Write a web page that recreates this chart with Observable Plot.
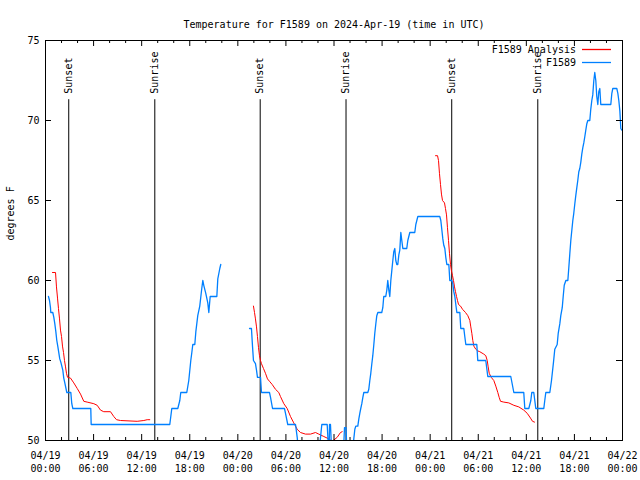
<!DOCTYPE html>
<html><head><meta charset="utf-8">
<script src="https://cdn.jsdelivr.net/npm/d3@7"></script>
<script src="https://cdn.jsdelivr.net/npm/@observablehq/plot@0.6"></script>
<style>body{margin:0;background:#fff;} svg{display:block}</style>
</head><body><div id="chart"></div>
<script>
const title = "Temperature for F1589 on 2024-Apr-19 (time in UTC)";
const yLabel = "degrees F";
const startUTC = Date.UTC(2024, 3, 19, 0, 0);
const xTickHours = [0, 6, 12, 18, 24, 30, 36, 42, 48, 54, 60, 66, 72];
const xMinorHours = [2, 4, 8, 10, 14, 16, 20, 22, 26, 28, 32, 34, 38, 40, 44, 46, 50, 52, 56, 58, 62, 64, 68, 70];
const yTicks = [50, 55, 60, 65, 70, 75];
const eventNames = ["Sunset", "Sunrise", "Sunset", "Sunrise", "Sunset", "Sunrise"];
const eventHours = [2.9, 13.64, 26.79, 37.5, 50.69, 61.43];
const eventLineTop = 71.3;
const seriesNames = ["F1589 Analysis", "F1589"];
const seriesColors = ["#ff0000", "#0080ff"];

// observed F1589 temperature: [hours since 04/19 00:00 UTC, degrees F]; null = gap
const obsPoints = [
[0.37,59],[0.50,58.75],[0.62,58.3],[0.66,58],[0.91,58],[1.04,57.7],[1.16,57.3],[1.29,56.8],[1.41,56.25],[1.53,55.9],[1.78,55.1],[1.91,54.9],[2.16,54.4],[2.28,53.9],[2.41,53.6],[2.66,53],[3.16,53],[3.28,52.3],[3.41,52],[5.65,52],[5.70,51],[15.51,51],[15.76,52],[16.51,52],[16.76,52.5],[16.88,53],[17.63,53],[17.88,53.75],[18.13,55],[18.26,55.5],[18.38,56],[18.63,56],[18.76,56.8],[19.00,57.8],[19.25,58.4],[19.50,59.5],[19.63,60],[19.75,59.7],[20.00,59.2],[20.25,58.6],[20.38,58],[20.55,59],[21.38,59],[21.50,60.1],[21.75,60.75],[21.87,61],
[23.5,null],
[25.46,57],[25.70,57],[25.83,55.9],[25.95,55],[26.20,54.8],[26.33,54.4],[26.45,53.95],[26.83,53.95],[26.95,53],[27.95,53],[28.08,52.7],[28.33,52],[29.82,52],[29.95,51.7],[30.23,51],[31.20,51],[31.41,50.2],[31.60,49],[34.10,49],[34.32,50.2],[34.48,51],[35.15,51],[35.31,49.5],[35.40,49.5],[35.44,51],[35.56,51],[35.69,49.5],[37.20,49.5],[37.31,50.8],[37.50,50.8],[37.60,49.5],[38.35,49.5],[38.47,50.1],[38.60,50.7],[38.72,50.9],[38.97,50.9],[39.10,51.35],[39.22,51.7],[39.34,52],[39.47,52.3],[39.60,52.7],[39.72,53],[40.22,53],[40.34,53.2],[40.47,53.75],[40.59,54.2],[40.72,54.8],[40.84,55.3],[40.97,56],[41.09,56.7],[41.22,57.3],[41.34,57.8],[41.47,58],[41.96,58],[42.09,58.3],[42.21,59],[42.46,59],[42.59,59.4],[42.71,60],[42.84,59.4],[42.96,59],[43.09,60],[43.21,60.6],[43.34,61.25],[43.46,61.8],[43.59,62],[43.71,61.25],[43.84,61],[43.96,61],[44.09,61.6],[44.21,61.9],[44.34,63],[44.46,62.5],[44.59,62],[45.08,62],[45.21,62.5],[45.46,63],[46.08,63],[46.21,63.5],[46.46,64],[49.20,64],[49.33,63.75],[49.45,63.2],[49.58,62.6],[49.70,62.2],[49.83,62],[49.95,61.45],[50.08,61],[50.33,61],[50.45,60],[50.70,60],[50.83,59.8],[50.95,59.3],[51.08,59],[51.20,58.5],[51.33,58],[51.70,58],[51.82,57],[52.20,57],[52.32,56.5],[52.45,56],[53.82,56],[53.94,55],[54.94,55],[55.19,54],[58.06,54],[58.44,53],[59.68,53],[59.81,52],[60.31,52],[60.56,52.5],[60.68,53],[60.93,53],[61.18,52],[62.18,52],[62.30,52.5],[62.43,53],[62.93,53],[63.14,53.75],[63.39,54.9],[63.55,55.7],[63.85,56],[63.98,56.7],[64.18,57.3],[64.30,57.8],[64.48,58.3],[64.60,59],[64.73,59.7],[64.93,60],[65.18,60],[65.30,60.8],[65.43,61.7],[65.55,62.5],[65.80,63.75],[65.92,64.2],[66.05,64.8],[66.17,65.3],[66.30,65.8],[66.42,66.25],[66.55,66.8],[66.67,67],[66.80,67.4],[66.92,67.9],[67.05,68.3],[67.17,68.6],[67.30,69],[67.42,69.4],[67.55,69.8],[67.67,70],[67.92,70],[68.04,70.7],[68.17,71.25],[68.29,71.6],[68.42,72.5],[68.54,73],[68.67,72.5],[68.79,71.5],[68.92,71],[69.04,71.8],[69.17,72],[69.29,71],[70.54,71],[70.67,71.7],[70.79,72],[71.29,72],[71.42,71.7],[71.54,71.25],[71.67,70.6],[71.79,69.5],[71.92,69.4]
];

// F1589 Analysis: [hours since 04/19 00:00 UTC, degrees F]; null = gap
const anaPoints = [
[0.87,60.5],[1.25,60.5],[1.37,59.6],[1.50,58.9],[1.62,58.25],[1.75,57.6],[1.87,56.9],[2.00,56.5],[2.12,55.9],[2.25,55.5],[2.37,55],[2.50,54.6],[2.62,54.2],[2.75,53.95],[3.12,53.9],[3.53,53.6],[3.96,53.25],[4.37,52.9],[4.78,52.45],[5.20,52.4],[6.03,52.3],[6.45,52.2],[6.86,51.9],[7.27,51.8],[8.11,51.8],[8.52,51.5],[8.86,51.3],[9.36,51.25],[11.44,51.2],[12.27,51.25],[12.69,51.3],[13.01,51.3],
[20,null],
[25.95,58.4],[26.08,58],[26.20,57.6],[26.33,57.1],[26.45,56.5],[26.58,55.8],[26.70,55.3],[26.83,55],[26.95,54.8],[27.20,54.5],[27.45,54.2],[27.70,53.85],[27.95,53.7],[28.29,53.5],[28.70,53.2],[29.11,53],[29.32,52.75],[29.74,52.3],[30.16,52],[30.57,51.5],[30.98,51.1],[31.41,50.7],[31.82,50.5],[32.44,50.4],[33.07,50.4],[33.69,50.5],[34.10,50.4],[34.73,50.25],[35.35,50.1],[35.78,49.95],[36.40,50.2],[36.81,50.5],[37.02,50.55],
[43,null],
[48.67,67.8],[48.92,67.8],[49.04,67.5],[49.16,66.7],[49.29,66],[49.41,65.4],[49.54,65],[49.79,64.85],[49.91,64.5],[50.04,64.1],[50.16,63.3],[50.29,62.5],[50.41,61.7],[50.54,61],[50.66,60.6],[50.79,60.3],[50.91,60],[51.04,59.6],[51.16,59.3],[51.29,59],[51.41,58.75],[51.54,58.5],[51.79,58.4],[52.04,58.2],[52.41,58],[52.70,57.8],[52.95,57.5],[53.07,57.1],[53.20,56.7],[53.32,56.25],[53.45,55.9],[53.70,55.7],[53.94,55.6],[54.19,55.55],[54.69,55.4],[54.94,55.3],[55.12,55],[55.24,54.6],[55.37,54.2],[55.62,53.95],[55.94,53.75],[56.19,53.4],[56.44,53],[56.61,52.7],[56.78,52.45],[57.19,52.4],[57.81,52.35],[58.44,52.2],[59.06,52.1],[59.68,51.9],[60.11,51.7],[60.52,51.4],[60.77,51.2],[61.02,51.15]
];

const toDate = h => new Date(startUTC + h * 3600e3);
const obs = obsPoints.map(([h, t]) => ({time: toDate(h), temp: t}));
const ana = anaPoints.map(([h, t]) => ({time: toDate(h), temp: t}));
const events = eventNames.map((name, i) => ({name, time: toDate(eventHours[i])}));
const xTicks = xTickHours.map(toDate);
const xMinor = xMinorHours.map(toDate);
const fmt = d3.utcFormat("%m/%d\n%H:%M");

const chart = Plot.plot({
  width: 640, height: 480,
  marginLeft: 45, marginRight: 18, marginTop: 40, marginBottom: 40,
  style: {fontFamily: "'DejaVu Sans Mono', monospace", fontSize: "10px", color: "black", background: "white"},
  x: {type: "utc", domain: [toDate(0), toDate(72)]},
  y: {domain: [50, 75]},
  marks: [
    Plot.ruleX(events, {x: "time", y1: 50, y2: eventLineTop, stroke: "black", strokeWidth: 1}),
    Plot.text(events, {x: "time", y: eventLineTop, text: "name", rotate: -90, textAnchor: "start", dy: -6, fill: "black"}),
    Plot.lineY(ana, {x: "time", y: "temp", stroke: seriesColors[0], strokeWidth: 1, clip: true}),
    Plot.lineY(obs, {x: "time", y: "temp", stroke: seriesColors[1], strokeWidth: 1.3, clip: true}),
    Plot.frame({stroke: "black"}),
    // inward ticks, bottom and top
    Plot.ruleX(xTicks, {x: d => d, insetTop: 394, stroke: "black"}),
    Plot.ruleX(xTicks, {x: d => d, insetBottom: 394, stroke: "black"}),
    Plot.ruleX(xMinor, {x: d => d, insetTop: 397, stroke: "black"}),
    Plot.ruleX(xMinor, {x: d => d, insetBottom: 397, stroke: "black"}),
    // inward ticks, left and right
    Plot.ruleY(yTicks, {y: d => d, insetRight: 571, stroke: "black"}),
    Plot.ruleY(yTicks, {y: d => d, insetLeft: 571, stroke: "black"}),
    Plot.axisX(xTicks, {tickSize: 0, tickPadding: 10, tickFormat: fmt, lineHeight: 1.25, label: null}),
    Plot.axisY(yTicks, {tickSize: 0, tickPadding: 6, label: null}),
    Plot.text([yLabel], {frameAnchor: "left", dx: -35, rotate: -90, text: d => d}),
    Plot.text([title], {frameAnchor: "top", dy: -20, text: d => d})
  ]
});
document.getElementById("chart").appendChild(chart);

// legend (top-right, inside the frame)
const svg = d3.select(chart);
const legendY = [49.5, 62.5];
seriesNames.forEach((name, i) => {
  svg.append("text").attr("x", 576).attr("y", legendY[i]).attr("dy", "0.35em")
    .attr("text-anchor", "end").attr("fill", "black")
    .attr("font-family", "'DejaVu Sans Mono', monospace").attr("font-size", 10).text(name);
  svg.append("line").attr("x1", 582).attr("x2", 611).attr("y1", legendY[i]).attr("y2", legendY[i])
    .attr("stroke", seriesColors[i]).attr("stroke-width", 1.3);
});
</script>
</body></html>
